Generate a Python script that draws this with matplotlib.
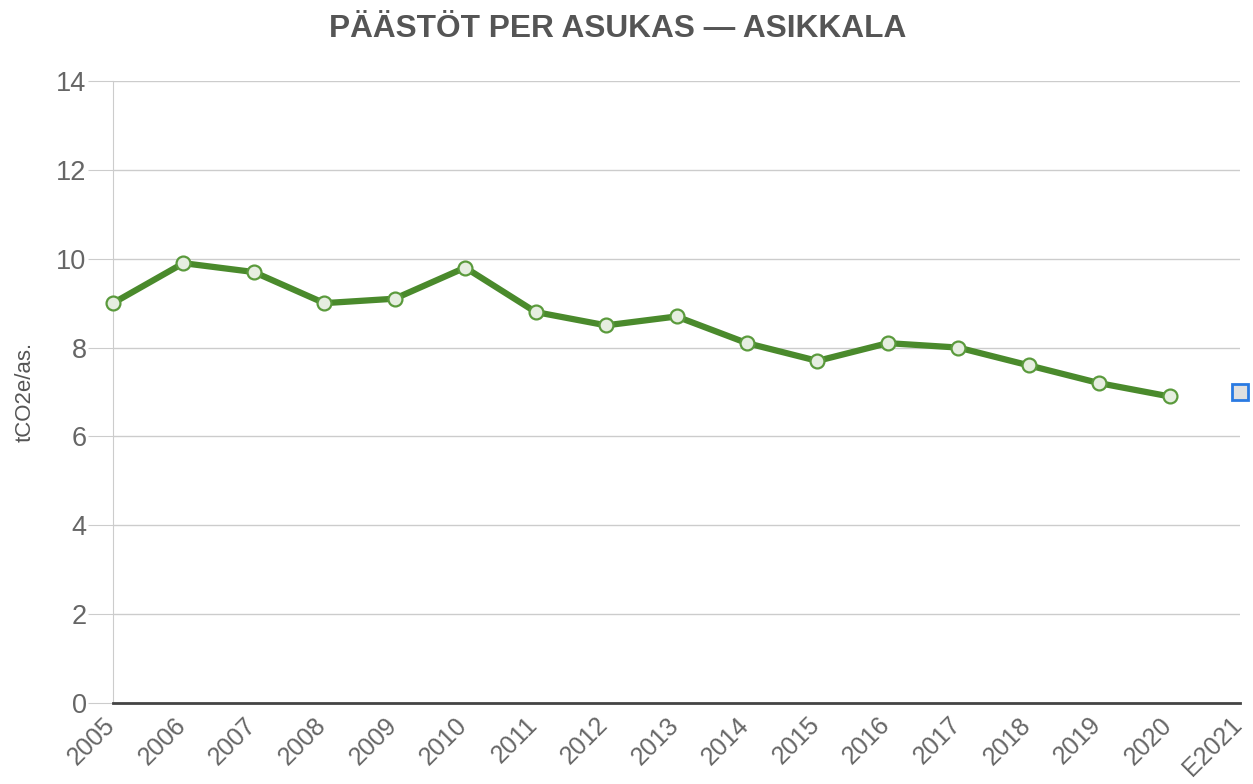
import matplotlib.pyplot as plt
from matplotlib.transforms import ScaledTranslation

plt.rcParams['font.family'] = ['Liberation Sans', 'DejaVu Sans']

years = ['2005', '2006', '2007', '2008', '2009', '2010', '2011', '2012',
         '2013', '2014', '2015', '2016', '2017', '2018', '2019', '2020', 'E2021']
values = [9.0, 9.9, 9.7, 9.0, 9.1, 9.8, 8.8, 8.5, 8.7, 8.1, 7.7, 8.1, 8.0,
          7.6, 7.2, 6.9]
estimate = 7.0

fig = plt.figure(figsize=(12.53, 7.84), dpi=100)
ax = fig.add_axes([113 / 1253, 1 - 703 / 784, (1240 - 113) / 1253, (703 - 81) / 784])

x = list(range(len(years)))
ax.plot(x[:len(values)], values, color='#4a8a2c', lw=4.5, marker='o', ms=10,
        mfc='#e6eee0', mec='#5a9a3c', mew=1.6, zorder=3, clip_on=False)
ax.plot([x[-1]], [estimate], marker='s', ms=12, mfc='#e0e0e0', mec='#2a7ae2',
        mew=2, ls='none', zorder=4, clip_on=False)

ax.set_xlim(0, len(years) - 1)
ax.set_ylim(0, 14)
ax.set_yticks(range(0, 15, 2))
ax.set_xticks(x)
ax.set_xticklabels(years, rotation=45, ha='right', va='top',
                   rotation_mode='anchor', fontsize=18, color='#666666')
ax.tick_params(axis='x', length=0, pad=7)
# labels sit a bit left of the tick, as in the original
shift = ScaledTranslation(-10 / 100, 0, fig.dpi_scale_trans)
for lab in ax.get_xticklabels():
    lab.set_transform(lab.get_transform() + shift)
ax.tick_params(axis='y', length=18, color='#cccccc', labelsize=19.5,
               labelcolor='#666666', pad=1)
ax.grid(axis='y', color='#cccccc', lw=1)
ax.set_axisbelow(True)

for s in ['top', 'right']:
    ax.spines[s].set_visible(False)
ax.spines['left'].set_color('#cccccc')
ax.spines['bottom'].set_color('#444444')
ax.spines['bottom'].set_linewidth(2)

ax.set_ylabel('tCO2e/as.', fontsize=16, color='#555555', labelpad=15)
fig.text(0.493, 0.963, 'PÄÄSTÖT PER ASUKAS — ASIKKALA', ha='center',
         va='center', fontsize=22.8, fontweight='bold', color='#555555')

fig.savefig('out.png', dpi=100)
